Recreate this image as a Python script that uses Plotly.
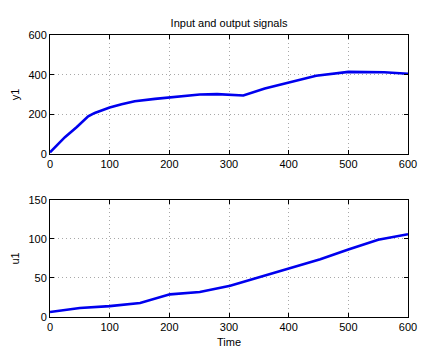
import plotly.graph_objects as go
from plotly.subplots import make_subplots

t_y = [0, 25, 45, 64, 75, 84, 100, 120, 142, 176, 207, 251, 280, 300, 324, 360, 402, 446, 500, 531, 560, 600]
y1 = [8, 85, 136, 190, 207, 217, 234, 251, 266, 278, 288, 300, 302, 300, 295, 330, 361, 395, 414, 414, 412, 405]

t_u = [0, 50, 100, 151, 201, 251, 302, 352, 402, 453, 500, 550, 600]
u1 = [6.4, 11.5, 14, 18, 29, 32, 40, 51, 62, 74, 86.5, 99, 106]

fig = make_subplots(rows=2, cols=1, vertical_spacing=0.163)
line = dict(color="#0000ee", width=2.6)
fig.add_trace(go.Scatter(x=t_y, y=y1, mode="lines", line=line, showlegend=False), row=1, col=1)
fig.add_trace(go.Scatter(x=t_u, y=u1, mode="lines", line=line, showlegend=False), row=2, col=1)

ax = dict(showline=True, mirror="ticks", linecolor="black", linewidth=1,
          ticks="inside", ticklen=4, tickcolor="black", automargin=False,
          showgrid=True, gridcolor="#a8a8a8", griddash="1px,3px", gridwidth=1,
          zeroline=False, tickfont=dict(size=11, color="black"))

fig.update_xaxes(**ax, range=[0, 600], tickvals=[0, 100, 200, 300, 400, 500, 600])
fig.update_yaxes(**ax)
fig.update_yaxes(range=[0, 600], tickvals=[0, 200, 400, 600], domain=[0.578, 1], row=1, col=1,
                 title=dict(text="y1", font=dict(size=11, color="black"), standoff=6))
fig.update_yaxes(range=[0, 150], tickvals=[0, 50, 100, 150], domain=[0, 0.415], row=2, col=1,
                 title=dict(text="u1", font=dict(size=11, color="black"), standoff=6))
fig.update_xaxes(row=2, col=1, title=dict(text="Time", font=dict(size=11, color="black"), standoff=6))

fig.update_layout(
    width=423, height=341,
    margin=dict(l=42, r=23, t=27, b=32),
    paper_bgcolor="white", plot_bgcolor="white",
    font=dict(family="Liberation Sans, Arial, Helvetica, sans-serif", color="black"),
    title=dict(text="Input and output signals", x=(229 - 8) / 423, xanchor="center", xref="container",
               y=1 - 15/341, yanchor="middle", yref="container", font=dict(size=11, color="black")),
)

fig.write_html("out.html")
